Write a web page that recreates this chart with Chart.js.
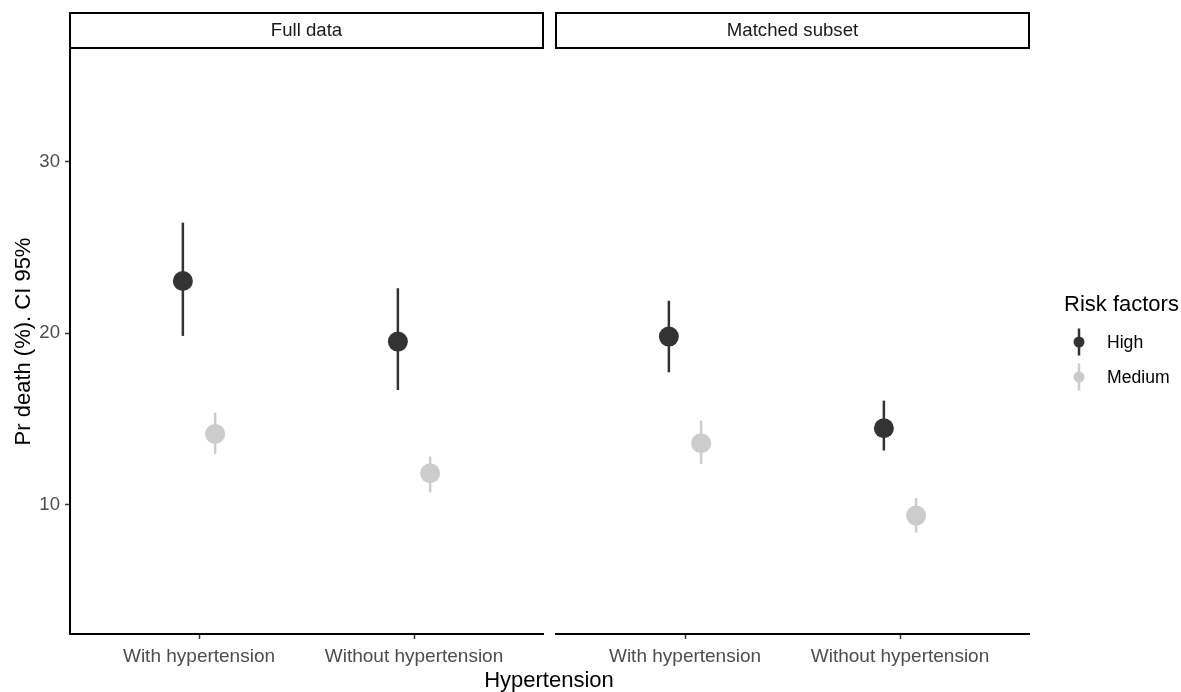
<!DOCTYPE html>
<html>
<head>
<meta charset="utf-8">
<script src="https://cdn.jsdelivr.net/npm/chart.js@4.4.1/dist/chart.umd.min.js"></script>
<style>
  body { margin: 0; background: #fff; }
  #wrap { position: relative; width: 1181px; height: 692px; background: #fff; font-family: "Liberation Sans", Arial, sans-serif; }
  #c1 { position: absolute; left: 0; top: 0; }
  #c2 { position: absolute; left: 550px; top: 0; }
  #xtitle { position: absolute; left: 449px; width: 200px; top: 669px; line-height: 22px; font-size: 22px; text-align: center; color: #000; }
</style>
</head>
<body>
<div id="wrap">
  <canvas id="c1" width="550" height="692" style="width:550px;height:692px"></canvas>
  <canvas id="c2" width="631" height="692" style="width:631px;height:692px"></canvas>
  <div id="xtitle">Hypertension</div>
</div>
<script>
const facets = ["Full data", "Matched subset"];
const categories = ["With hypertension", "Without hypertension"];
const seriesNames = ["High", "Medium"];
const seriesColors = ["#333333", "#cccccc"];
const yTicks = [10, 20, 30];

// Full data
const fullHigh = [23.05, 19.52];
const fullHighLow = [19.85, 16.70];
const fullHighUp = [26.45, 22.63];
const fullMedium = [14.14, 11.85];
const fullMediumLow = [12.97, 10.74];
const fullMediumUp = [15.38, 12.82];

// Matched subset
const matchedHigh = [19.81, 14.47];
const matchedHighLow = [17.73, 13.17];
const matchedHighUp = [21.90, 16.08];
const matchedMedium = [13.60, 9.38];
const matchedMediumLow = [12.39, 8.39];
const matchedMediumUp = [14.92, 10.40];

const FONT = "'Liberation Sans', Arial, sans-serif";
const dodge = 0.075;

function makeDataset(i, values, lows, ups) {
  const off = i === 0 ? -dodge : dodge;
  return {
    label: seriesNames[i],
    data: values.map((v, j) => ({ x: j + 1 + off, y: v })),
    errLow: lows,
    errUp: ups,
    backgroundColor: seriesColors[i],
    pointBackgroundColor: seriesColors[i],
    pointBorderWidth: 0,
    pointRadius: 10,
    pointHoverRadius: 10,
  };
}

// error bars under the points
const errorBars = {
  id: "errorBars",
  beforeDatasetsDraw(chart) {
    const ctx = chart.ctx;
    const y = chart.scales.y;
    chart.data.datasets.forEach((ds, i) => {
      const meta = chart.getDatasetMeta(i);
      ctx.save();
      ctx.strokeStyle = ds.backgroundColor;
      ctx.lineWidth = 2.5;
      meta.data.forEach((pt, j) => {
        ctx.beginPath();
        ctx.moveTo(pt.x, y.getPixelForValue(ds.errLow[j]));
        ctx.lineTo(pt.x, y.getPixelForValue(ds.errUp[j]));
        ctx.stroke();
      });
      ctx.restore();
    });
  },
};

// facet strip on top of the panel
const strip = {
  id: "strip",
  afterDraw(chart, args, opts) {
    const { ctx, chartArea } = chart;
    ctx.save();
    ctx.fillStyle = "#fff";
    ctx.fillRect(chartArea.left, 13, chartArea.right - chartArea.left, 35);
    ctx.strokeStyle = "#000";
    ctx.lineWidth = 2;
    ctx.strokeRect(chartArea.left, 13, chartArea.right - chartArea.left, 35);
    ctx.fillStyle = "#1a1a1a";
    ctx.font = "18.6px " + FONT;
    ctx.textAlign = "center";
    ctx.textBaseline = "middle";
    ctx.fillText(opts.text, (chartArea.left + chartArea.right) / 2, 31);
    ctx.restore();
  },
};

// legend at the right of the second panel
const sideLegend = {
  id: "sideLegend",
  afterDraw(chart) {
    const ctx = chart.ctx;
    const ox = 550;
    ctx.save();
    ctx.fillStyle = "#000";
    ctx.textBaseline = "middle";
    ctx.textAlign = "left";
    ctx.font = "22px " + FONT;
    ctx.fillText("Risk factors", 1064 - ox, 305);
    const rows = [342, 377];
    seriesNames.forEach((name, i) => {
      const cx = 1079 - ox;
      const cy = rows[i];
      ctx.strokeStyle = seriesColors[i];
      ctx.lineWidth = 2.5;
      ctx.beginPath();
      ctx.moveTo(cx, cy - 13.5);
      ctx.lineTo(cx, cy + 13.5);
      ctx.stroke();
      ctx.fillStyle = seriesColors[i];
      ctx.beginPath();
      ctx.arc(cx, cy, 5.5, 0, Math.PI * 2);
      ctx.fill();
      ctx.fillStyle = "#000";
      ctx.font = "17.6px " + FONT;
      ctx.fillText(name, 1107 - ox, cy + 1);
    });
    ctx.restore();
  },
};

function panelOptions(showY, padding, stripText) {
  return {
    responsive: false,
    animation: false,
    layout: { padding: padding, autoPadding: false },
    plugins: {
      legend: { display: false },
      tooltip: { enabled: false },
      strip: { text: stripText },
    },
    scales: {
      x: {
        type: "linear",
        min: 0.4,
        max: 2.6,
        afterBuildTicks: (s) => { s.ticks = categories.map((c, i) => ({ value: i + 1 })); },
        afterFit: (s) => { s.height = 58; },
        ticks: {
          callback: (v) => categories[v - 1],
          font: { family: FONT, size: 19 },
          color: "#4d4d4d",
          padding: 6,
          maxRotation: 0,
          autoSkip: false,
        },
        grid: { drawOnChartArea: false, drawTicks: true, tickLength: 5, tickColor: "#333", tickWidth: 1.5 },
        border: { display: true, color: "#000", width: 2 },
      },
      y: {
        display: showY,
        min: 2.48,
        max: 36.57,
        afterBuildTicks: (s) => { s.ticks = yTicks.map((v) => ({ value: v })); },
        afterFit: (s) => { if (showY) s.width = 70; },
        ticks: {
          font: { family: FONT, size: 18.6 },
          color: "#4d4d4d",
          padding: 5,
        },
        grid: { drawOnChartArea: false, drawTicks: true, tickLength: 5, tickColor: "#333", tickWidth: 1.5 },
        border: { display: true, color: "#000", width: 2 },
        title: {
          display: showY,
          text: "Pr death (%). CI 95%",
          font: { family: FONT, size: 22 },
          color: "#000",
          padding: { top: 11, bottom: 0 },
        },
      },
    },
  };
}

new Chart(document.getElementById("c1"), {
  type: "scatter",
  data: {
    datasets: [
      makeDataset(0, fullHigh, fullHighLow, fullHighUp),
      makeDataset(1, fullMedium, fullMediumLow, fullMediumUp),
    ],
  },
  options: panelOptions(true, { left: 0, right: 7, top: 49, bottom: 0 }, facets[0]),
  plugins: [errorBars, strip],
});

new Chart(document.getElementById("c2"), {
  type: "scatter",
  data: {
    datasets: [
      makeDataset(0, matchedHigh, matchedHighLow, matchedHighUp),
      makeDataset(1, matchedMedium, matchedMediumLow, matchedMediumUp),
    ],
  },
  options: panelOptions(false, { left: 6, right: 152, top: 49, bottom: 0 }, facets[1]),
  plugins: [errorBars, strip, sideLegend],
});
</script>
</body>
</html>
